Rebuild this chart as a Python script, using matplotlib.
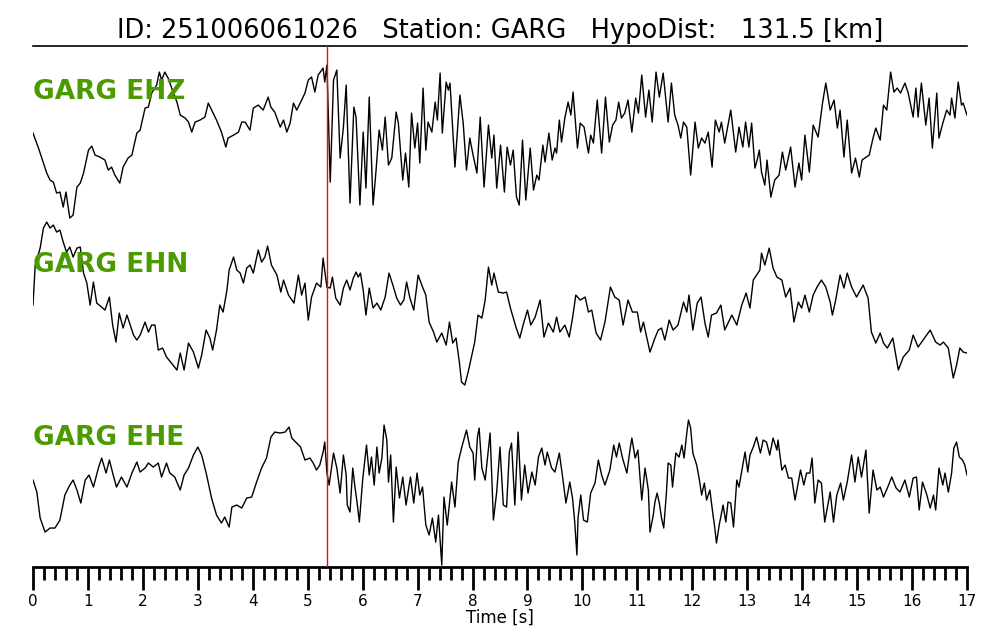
import numpy as np
import matplotlib
matplotlib.use("Agg")
import matplotlib.pyplot as plt
from matplotlib.ticker import MultipleLocator

# event / station info
event_id = "251006061026"
station = "GARG"
hypo_dist = 131.5
p_pick = 5.35  # s
channels = ["EHZ", "EHN", "EHE"]

# traces: turning points (time [s], amplitude [arbitrary])
ehz_t = [0.00, 0.10, 0.19, 0.25, 0.31, 0.37, 0.43, 0.49, 0.55, 0.60,
         0.67, 0.73, 0.80, 0.86, 0.92, 1.01, 1.07, 1.13, 1.22, 1.31,
         1.37, 1.43, 1.49, 1.58, 1.64, 1.73, 1.80, 1.89, 1.95, 2.04,
         2.10, 2.16, 2.25, 2.30, 2.34, 2.40, 2.46, 2.55, 2.62, 2.68,
         2.77, 2.83, 2.89, 2.95, 3.04, 3.13, 3.19, 3.27, 3.34, 3.43,
         3.51, 3.55, 3.65, 3.74, 3.80, 3.86, 3.95, 4.01, 4.10, 4.19,
         4.28, 4.33, 4.40, 4.50, 4.56, 4.62, 4.68, 4.74, 4.80, 4.89,
         4.95, 5.01, 5.07, 5.13, 5.19, 5.28, 5.31, 5.35, 5.41, 5.47,
         5.53,
         5.59, 5.65, 5.70, 5.77, 5.84, 5.88, 5.95, 6.01, 6.06, 6.12,
         6.19, 6.24, 6.30, 6.36, 6.41, 6.47, 6.53, 6.61, 6.65, 6.73,
         6.78, 6.84, 6.89, 6.95, 7.00, 7.04, 7.10, 7.15, 7.19, 7.26,
         7.32, 7.36, 7.41, 7.45, 7.52, 7.56, 7.59, 7.68, 7.77, 7.83,
         7.89, 7.95, 8.01, 8.08, 8.14, 8.21, 8.29, 8.35, 8.39, 8.44,
         8.51, 8.58, 8.63, 8.69, 8.74, 8.80, 8.85, 8.91, 8.97, 9.05,
         9.11, 9.17, 9.21, 9.28, 9.32, 9.39, 9.45, 9.50, 9.53, 9.58,
         9.62, 9.68, 9.74, 9.79, 9.83, 9.91, 9.96, 10.03, 10.11, 10.15,
         10.20, 10.27, 10.35, 10.42, 10.49, 10.55, 10.61, 10.66, 10.71, 10.77,
         10.83, 10.90, 10.97, 11.02, 11.08, 11.15, 11.21, 11.27,
         11.34, 11.40, 11.47, 11.56, 11.62, 11.68, 11.74, 11.79, 11.84, 11.90,
         11.97, 12.05, 12.11, 12.17, 12.23, 12.29, 12.36, 12.42, 12.49, 12.53,
         12.59, 12.70, 12.79, 12.85, 12.92, 12.97, 13.03, 13.08, 13.14, 13.18,
         13.22, 13.26, 13.32, 13.36, 13.43, 13.50, 13.58, 13.64, 13.70, 13.79,
         13.87, 13.94, 13.99, 14.05, 14.13, 14.20, 14.29, 14.37, 14.43, 14.51,
         14.58, 14.64, 14.69, 14.76, 14.82, 14.90, 14.97, 15.04, 15.09, 15.14,
         15.22, 15.29, 15.34, 15.42, 15.48, 15.54, 15.61, 15.67, 15.73, 15.79,
         15.87, 15.93, 16.02, 16.07, 16.11, 16.17, 16.25, 16.31, 16.37, 16.45,
         16.49, 16.56, 16.63, 16.69, 16.72, 16.78, 16.84, 16.90, 16.93, 17.00]
ehz_a = [2, -13, -28, -38, -45, -47, -58, -57, -72, -57,
         -83, -80, -52, -48, -38, -15, -11, -20, -22, -25,
         -35, -32, -40, -48, -32, -23, -20, 2, 5, 27,
         28, 42, 50, 63, 55, 63, 57, 43, 33, 20,
         17, 13, 3, 13, 15, 18, 32, 23, 15, 3,
         -12, -3, 0, 3, 13, 13, 5, 27, 30, 25,
         38, 28, 23, 8, 15, 3, 12, 32, 25, 35,
         42, 55, 58, 43, 60, 67, 53, 70, -47, 55,
         65,
         -23, 8, 50, -68, 28, 18, -70, 3, -53, 38,
         -70, -38, 5, -15, 18, -30, -23, 23, 12, -45,
         -18, -52, 22, -13, 12, -28, 47, -15, 13, 3,
         33, 15, 62, 2, 53, 45, 52, -32, 40, 12,
         -35, -3, -20, -38, 18, -52, 10, -23, 0, -53,
         -10, -57, -12, -30, -15, -62, -70, -5, -65, -13,
         -55, -40, -45, -10, -27, 2, -25, -13, -18, 15,
         -7, 17, 33, 20, 43, -13, 12, 8, -18, 0,
         -8, 35, -18, 38, -7, 10, 15, 33, 17, 22,
         35, 3, 37, 22, 60, 18, 45, 13,
         63, 38, 62, 13, 52, 20, 10, -3, 13, 8,
         -40, 13, -13, -3, -8, 3, -32, 15, 3, 13,
         -8, 25, -17, 8, -12, 13, -12, 12, -33, -25,
         -15, -37, -50, -25, -62, -45, -40, -17, -35, -12,
         -52, -28, -45, 0, -37, 10, -2, 32, 52, 25,
         35, 7, 25, -22, 15, -38, -23, -42, -25, -23,
         -20, -3, 7, -5, 30, 25, 63, 43, 47, 42,
         52, 42, 18, 47, 18, 52, 10, 37, -13, 42,
         -3, 12, 25, 20, 37, 17, 53, 30, 32, 20]

ehn_t = [0.00, 0.04, 0.13, 0.19, 0.25, 0.31, 0.37, 0.43, 0.49, 0.55,
         0.61, 0.67, 0.73, 0.80, 0.86, 0.92, 0.98, 1.04, 1.10, 1.16,
         1.25, 1.31, 1.39, 1.45, 1.51, 1.57, 1.64, 1.71, 1.77, 1.83,
         1.89, 1.95, 2.04, 2.10, 2.16, 2.22, 2.28, 2.36, 2.43, 2.52,
         2.62, 2.68, 2.75, 2.83, 2.92, 3.01, 3.07, 3.15, 3.22, 3.27,
         3.34, 3.40, 3.46, 3.53, 3.57, 3.65, 3.71, 3.77, 3.83, 3.89,
         3.95, 4.01, 4.10, 4.16, 4.22, 4.27, 4.34, 4.44, 4.51, 4.56,
         4.65, 4.75, 4.83, 4.89, 4.95, 5.01, 5.07, 5.16, 5.24, 5.28,
         5.35, 5.41, 5.45, 5.51,
         5.59, 5.65, 5.71, 5.77, 5.83, 5.88, 5.92, 5.96, 6.01, 6.06,
         6.12, 6.19, 6.26, 6.33, 6.41, 6.48, 6.55, 6.62, 6.69, 6.75,
         6.80, 6.86, 6.93, 7.01, 7.09, 7.15, 7.21, 7.29, 7.35, 7.44,
         7.52, 7.58, 7.64, 7.70, 7.76, 7.80, 7.86, 7.92, 7.98, 8.04,
         8.10, 8.17, 8.23, 8.29, 8.35, 8.39, 8.47, 8.56, 8.62, 8.69,
         8.79, 8.86, 8.92, 9.00, 9.06, 9.14, 9.23, 9.30, 9.38, 9.47,
         9.53, 9.59, 9.68, 9.76, 9.82, 9.88, 9.96, 10.05, 10.11, 10.17,
         10.25, 10.33, 10.41, 10.51, 10.59, 10.67, 10.74, 10.83, 10.91, 11.00,
         11.06, 11.11, 11.17,
         11.23, 11.32, 11.38, 11.44, 11.50, 11.58, 11.65, 11.74, 11.84, 11.90,
         11.94, 12.01, 12.09, 12.16, 12.23, 12.29, 12.35, 12.44, 12.52, 12.59,
         12.72, 12.81, 12.90, 12.98, 13.05, 13.11, 13.23, 13.26, 13.32, 13.40,
         13.47, 13.54, 13.63, 13.70, 13.78, 13.85, 13.93, 13.99, 14.05, 14.13,
         14.20, 14.27, 14.35, 14.43, 14.51, 14.55, 14.61, 14.69, 14.76, 14.82,
         14.90, 14.99, 15.11, 15.20, 15.26, 15.34, 15.42, 15.48, 15.55, 15.65,
         15.75, 15.84, 15.95, 16.02, 16.11, 16.20, 16.33, 16.43, 16.51, 16.57,
         16.66, 16.75, 16.81, 16.87, 16.93, 17.00]
ehn_a = [-5, 35, 52, 72, 78, 72, 75, 68, 70, 58,
         48, 53, 43, 52, 53, 27, 17, -5, 18, -3,
         -7, -10, 3, -25, -42, -13, -28, -15, -25, -35,
         -40, -35, -22, -32, -25, -25, -50, -48, -57, -63,
         -70, -53, -70, -43, -52, -68, -55, -30, -38, -50,
         -30, -5, -12, 10, 30, 43, 30, 27, 17, 32,
         35, 27, 50, 38, 43, 54, 35, 25, 8, 20,
         5, -3, 25, 5, 17, -20, 3, 17, 13, 42,
         13, 12, 23, 2,
         -5, 12, 20, 10, 22, 28, 23, 27, 10, -15,
         12, -8, -3, -10, 3, 27, 15, 2, -5, 0,
         18, 2, -10, 25, 13, 5, -22, -32, -42, -33,
         -45, -22, -43, -38, -62, -82, -85, -72, -57, -42,
         -15, -18, 0, 33, 15, 27, 8, 7, 8, -8,
         -27, -38, -25, -10, -25, -17, 0, -37, -23, -32,
         -17, -32, -25, -37, -18, 5, 0, 3, -12, -10,
         -33, -40, -22, 13, 3, 0, -25, 0, -12, -12,
         -32, -22, -37,
         -52, -38, -30, -28, -40, -20, -30, -25, -2, -12,
         5, -30, -3, 3, -23, -37, -15, -13, -5, -30,
         -15, -25, -5, 7, -8, 20, 30, 47, 35, 52,
         32, 23, 20, 3, 12, -22, -2, -8, 5, -12,
         5, 13, 20, 13, -2, -15, 0, 25, 12, 27,
         13, 3, 15, 2, -32, -43, -33, -43, -48, -38,
         -70, -57, -50, -35, -47, -40, -30, -42, -45, -42,
         -48, -78, -65, -48, -52, -53]

ehe_t = [0.00, 0.07, 0.13, 0.22, 0.31, 0.40, 0.49, 0.58, 0.67, 0.73,
         0.80, 0.87, 0.95, 1.02, 1.10, 1.19, 1.25, 1.33, 1.39, 1.46,
         1.52, 1.61, 1.71, 1.80, 1.89, 1.95, 2.04, 2.10, 2.19, 2.28,
         2.34, 2.43, 2.49, 2.58, 2.68, 2.75, 2.83, 2.92, 3.00, 3.07,
         3.16, 3.25, 3.34, 3.43, 3.49, 3.57, 3.62, 3.71, 3.80, 3.89,
         3.98, 4.07, 4.16, 4.25, 4.33, 4.40, 4.50, 4.59, 4.66, 4.71,
         4.80, 4.87, 4.95, 5.04, 5.10, 5.16, 5.22, 5.28, 5.31, 5.35,
         5.39, 5.47, 5.53,
         5.59, 5.65, 5.70, 5.72, 5.77, 5.82, 5.86, 5.90, 5.94, 6.00,
         6.07, 6.12, 6.16, 6.21, 6.26, 6.30, 6.35, 6.39, 6.44, 6.47,
         6.51, 6.56, 6.61, 6.67, 6.73, 6.79, 6.87, 6.93, 6.99, 7.04,
         7.09, 7.15, 7.21, 7.27, 7.33, 7.38, 7.42, 7.44, 7.48, 7.54,
         7.62, 7.68, 7.74, 7.80, 7.84, 7.89, 7.95, 8.01, 8.04, 8.09,
         8.12, 8.17, 8.23, 8.32, 8.38, 8.44, 8.50, 8.56, 8.62, 8.67,
         8.71, 8.77, 8.83, 8.89, 8.95, 9.01, 9.08, 9.14, 9.20, 9.26,
         9.32, 9.36, 9.44, 9.50, 9.58, 9.64, 9.70, 9.77, 9.82, 9.86,
         9.90, 9.92, 9.97, 10.02, 10.09, 10.15, 10.23, 10.29, 10.35, 10.41,
         10.50, 10.57, 10.62, 10.67, 10.73, 10.81, 10.87, 10.90, 10.96, 11.01,
         11.08, 11.14, 11.20,
         11.23, 11.29, 11.32, 11.36, 11.40, 11.44, 11.48, 11.53, 11.56, 11.61,
         11.64, 11.70, 11.76, 11.81, 11.85, 11.90, 11.93, 11.97, 12.01, 12.08,
         12.13, 12.17, 12.22, 12.26, 12.32, 12.37, 12.41, 12.44, 12.49, 12.56,
         12.61, 12.65, 12.70, 12.75, 12.81, 12.85, 12.92, 12.96, 13.01, 13.05,
         13.11, 13.17, 13.24, 13.29, 13.35, 13.41, 13.47, 13.54, 13.56, 13.63,
         13.69, 13.75, 13.81, 13.87, 13.93, 13.97, 14.03, 14.08, 14.14, 14.18,
         14.23, 14.29, 14.35, 14.41, 14.51, 14.57, 14.63, 14.70, 14.75, 14.82,
         14.90, 14.96, 15.02, 15.08, 15.16, 15.22, 15.29, 15.36, 15.42, 15.48,
         15.55, 15.63, 15.71, 15.78, 15.87, 15.95, 16.02, 16.08, 16.13, 16.19,
         16.27, 16.33, 16.39, 16.43, 16.49, 16.56, 16.60, 16.66, 16.72, 16.76,
         16.81, 16.86, 16.92, 16.96, 17.00]
ehe_a = [5, -7, -33, -47, -43, -43, -35, -10, 0, 5,
         -5, -18, 5, 10, -2, 17, 27, 12, 25, 10,
         -2, 8, -2, 12, 23, 13, 17, 22, 18, 22,
         8, 22, 12, 8, -5, 10, 17, 30, 38, 30,
         10, -13, -30, -38, -32, -42, -22, -20, -23, -13,
         -12, 3, 17, 27, 48, 53, 52, 53, 58, 47,
         42, 38, 25, 27, 22, 15, 20, 33, 43, 12,
         0, 32, 17,
         -8, 30, 10, -20, -27, 17, -2, -18, -37, 5,
         40, 10, 28, 0, 38, 12, 27, 60, 45, 3,
         30, -37, 18, -13, 8, -20, 8, -18, 12, -10,
         -2, -40, -50, -33, -57, -30, -63, -80, -12, -40,
         3, -22, 23, 37, 45, 55, 38, 32, 5, 48,
         57, 17, 5, 52, -35, -7, 38, -20, -22, 33,
         42, -20, 53, -15, 20, -8, 13, 0, 28, 37,
         20, 33, 17, 13, 32, 8, -18, 3, -13, -37,
         -70, -33, -10, -35, -37, -8, 2, 25, 10, 0,
         15, 40, 28, 42, 27, 12, 37, 47, 27, 35,
         -15, 17, -5,
         -47, -30, -17, -8, -18, -33, -43, -7, 22, 20,
         -2, 32, 28, 40, 27, 52, 65, 57, 32, 20,
         5, -10, 2, -15, -5, -27, -43, -58, -40, -20,
         -37, -17, -18, -42, 5, -2, 20, 33, 13, 30,
         38, 48, 32, 45, 43, 30, 47, 35, 45, 15,
         20, 7, 7, -15, 3, 15, 0, 12, 12, 27,
         -18, 5, 2, -37, -7, -37, -10, 2, -15, 3,
         30, 3, 28, 8, 35, -28, 15, -5, -2, -12,
         -3, 8, -3, -7, 5, -12, 7, 8, -25, 3,
         -10, -23, -10, -25, 17, 0, 12, -7, 12, 37,
         43, 28, 25, 20, 10]

traces = [(ehz_t, ehz_a), (ehn_t, ehn_a), (ehe_t, ehe_a)]
offsets = [432, 267, 82]      # vertical stacking of the traces
label_y = [475, 302, 129]

fig = plt.figure(figsize=(10, 6.4), dpi=100)
ax = fig.add_axes([0.033, 0.114, 0.934, 0.814])

for (t, a), off in zip(traces, offsets):
    ax.plot(t, np.array(a) + off, color="black", lw=1.0, zorder=2)

for ch, ly in zip(channels, label_y):
    ax.text(0, ly, f"{station} {ch}", color="#4a9a00", fontsize=19,
            fontweight="bold", ha="left", va="center", zorder=5)

ax.axvline(p_pick, color="red", lw=1.0, zorder=3)

ax.set_xlim(0, 17)
ax.set_ylim(0, 521)
ax.xaxis.set_major_locator(MultipleLocator(1))
ax.xaxis.set_minor_locator(MultipleLocator(0.2))
ax.set_xticks(range(0, 18))
ax.set_xticklabels([str(i) for i in range(0, 18)])
ax.tick_params(axis="x", which="major", direction="out", length=16.5,
               width=2, labelsize=11, pad=3)
ax.tick_params(axis="x", which="minor", direction="out", length=9.5, width=2)
ax.set_yticks([])
ax.spines["left"].set_visible(False)
ax.spines["right"].set_visible(False)
ax.spines["bottom"].set_linewidth(2)
ax.spines["top"].set_linewidth(1.2)
ax.set_xlabel("Time [s]", fontsize=12, labelpad=0)

ax.set_title(f"ID: {event_id}   Station: {station}   HypoDist:   {hypo_dist} [km]",
             fontsize=18.5, pad=6)

fig.savefig("out.png", dpi=100)
